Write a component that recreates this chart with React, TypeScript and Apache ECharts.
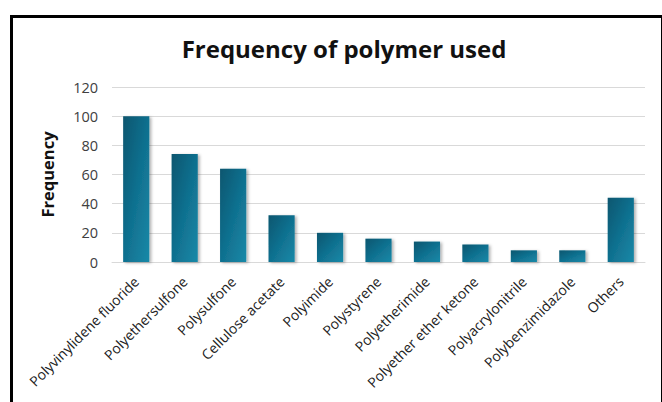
import React, { useEffect, useRef } from "react";
import * as echarts from "echarts";

const categories = [
  "Polyvinylidene fluoride",
  "Polyethersulfone",
  "Polysulfone",
  "Cellulose acetate",
  "Polyimide",
  "Polystyrene",
  "Polyetherimide",
  "Polyether ether ketone",
  "Polyacrylonitrile",
  "Polybenzimidazole",
  "Others",
];
const frequency = [100, 74, 64, 32, 20, 16, 14, 12, 8, 8, 44];
const yTicks = [0, 20, 40, 60, 80, 100, 120];

export default function App() {
  const ref = useRef<HTMLDivElement>(null);
  useEffect(() => {
    document.body.style.margin = "0";
    const chart = echarts.init(ref.current!, undefined, { renderer: "svg" });
    chart.setOption({
      animation: false,
      backgroundColor: "#ffffff",
      title: {
        text: "Frequency of polymer used",
        left: 339,
        textAlign: "center",
        top: 31,
        textStyle: {
          fontFamily: "Open Sans",
          fontWeight: "bold",
          fontSize: 24,
          color: "#111",
        },
      },
      graphic: [
        {
          type: "rect",
          left: 9,
          top: 14,
          shape: { width: 651, height: 420 },
          style: { fill: "none", stroke: "#000", lineWidth: 3 },
          z: 100,
        },
      ],
      grid: { left: 112, right: 17, top: 87, bottom: 140 },
      xAxis: {
        type: "category",
        data: categories,
        axisLine: { lineStyle: { color: "#d9d9d9", width: 1 } },
        axisTick: { show: false },
        axisLabel: {
          rotate: 45,
          interval: 0,
          margin: 17,
          color: "#222",
          fontFamily: "Open Sans",
          fontSize: 14,
        },
      },
      yAxis: {
        type: "value",
        min: yTicks[0],
        max: yTicks[yTicks.length - 1],
        interval: 20,
        name: "Frequency",
        nameLocation: "middle",
        nameGap: 56,
        nameTextStyle: {
          fontFamily: "Open Sans",
          fontWeight: "bold",
          fontSize: 16.5,
          color: "#111",
        },
        axisLine: { show: false },
        axisTick: { show: false },
        splitLine: { lineStyle: { color: "#d9d9d9", width: 1 } },
        axisLabel: {
          color: "#404040",
          fontFamily: "Open Sans",
          fontSize: 14.5,
          margin: 14,
        },
      },
      series: [
        {
          type: "bar",
          data: frequency,
          barWidth: "54%",
          itemStyle: {
            color: new echarts.graphic.LinearGradient(0, 0, 1, 1, [
              { offset: 0, color: "#08566f" },
              { offset: 0.5, color: "#10708f" },
              { offset: 1, color: "#1989a8" },
            ]),
            shadowBlur: 3,
            shadowColor: "rgba(0,0,0,0.3)",
            shadowOffsetX: 2,
            shadowOffsetY: 1,
          },
        },
      ],
    });
    return () => chart.dispose();
  }, []);
  return <div ref={ref} style={{ width: 662, height: 402 }} />;
}
